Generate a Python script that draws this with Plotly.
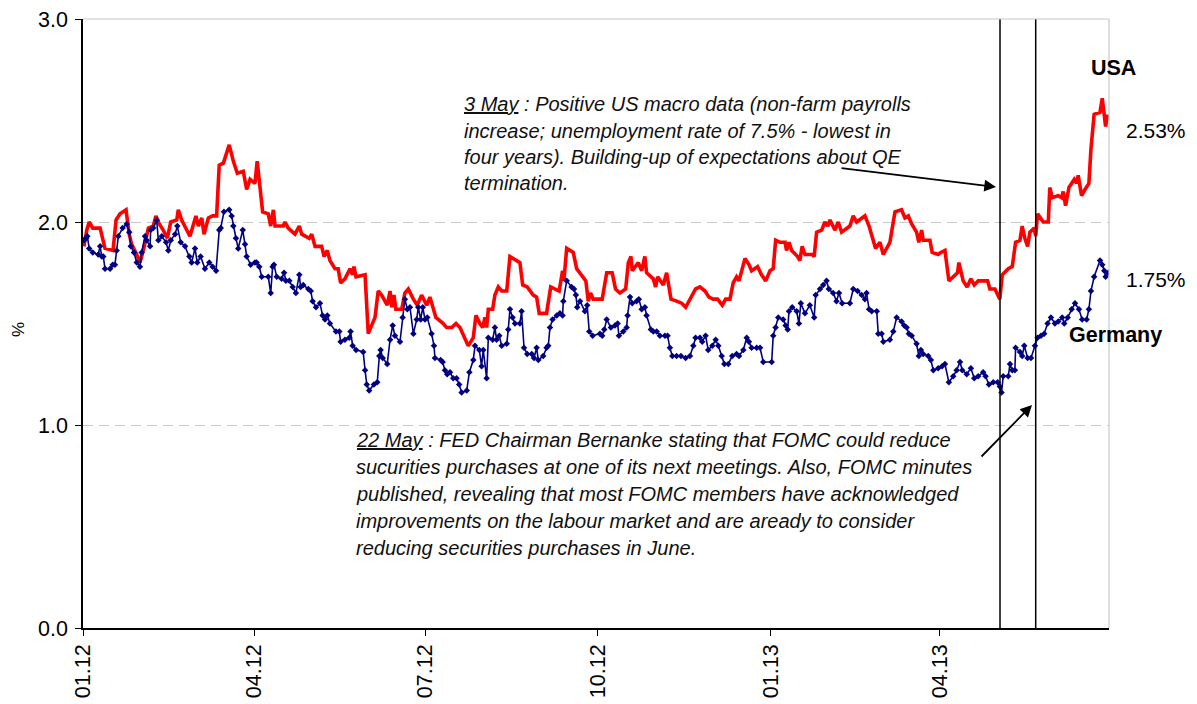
import pandas as pd
import plotly.graph_objects as go

# ---- data (day offsets from 2012-01-01, yields in %) ----
usa_day = [0.5, 2.0, 3.3, 5.2, 9.1, 10.0, 11.7, 16.0, 17.6, 19.7, 22.9, 24.6, 25.9, 28.6, 30.3, 32.1,
           34.8, 37.4, 38.8, 40.6, 42.7, 44.9, 46.7, 49.9, 50.7, 52.5, 56.9, 60.1, 61.4, 63.2, 64.4,
           66.7, 69.0, 71.1, 72.5, 74.7, 77.8, 80.0, 82.1, 85.3, 87.1, 88.9, 91.5, 92.7, 95.6, 98.6,
           99.9, 101.3, 102.2, 106.6, 107.5, 109.2, 112.8, 115.1, 116.4, 120.4, 121.7, 123.5, 127.0,
           128.3, 130.0, 131.4, 134.1, 135.8, 137.1, 139.4, 142.1, 143.5, 144.2, 145.3, 150.1, 151.8,
           155.4, 157.1, 158.9, 161.9, 163.4, 164.3, 165.5, 166.5, 169.6, 171.3, 173.1, 175.8, 177.9,
           180.2, 182.9, 184.6, 187.8, 191.7, 193.5, 196.2, 198.5, 200.6, 202.4, 205.0, 207.7, 209.1,
           211.2, 212.7, 213.9, 214.8, 215.7, 218.0, 219.2, 221.0, 222.8, 225.5, 227.2, 229.0, 232.5,
           234.0, 236.4, 239.6, 241.4, 242.8, 246.7, 248.9, 251.2, 253.4, 255.2, 255.9, 257.4, 260.9,
           262.7, 267.6, 268.9, 270.1, 271.5, 275.1, 276.3, 278.7, 281.6, 283.4, 285.7, 288.8, 290.2,
           291.6, 292.3, 295.5, 297.3, 299.0, 299.9, 303.5, 304.7, 305.8, 308.8, 310.6, 312.9, 315.9,
           318.6, 320.7, 323.9, 326.0, 328.3, 331.0, 333.1, 335.4, 337.7, 340.2, 342.0, 344.3, 346.0,
           347.8, 349.1, 352.3, 354.4, 355.8, 359.0, 361.1, 363.3, 365.6, 367.3, 368.6, 370.9, 373.6,
           374.4, 375.7, 377.1, 380.3, 381.5, 382.7, 384.2, 388.1, 389.1, 390.4, 393.1, 394.8, 396.3,
           397.5, 400.2, 401.9, 403.7, 408.1, 409.9, 411.7, 416.1, 418.3, 421.8, 424.1, 425.9, 429.4,
           432.1, 435.6, 437.4, 439.2, 441.0, 443.6, 444.8, 446.3, 447.1, 450.7, 451.9, 455.1, 456.5,
           458.7, 460.8, 464.0, 465.4, 466.1, 468.4, 470.5, 472.5, 474.3, 476.4, 479.0, 481.4, 482.6,
           485.3, 487.9, 489.2, 492.4, 494.5, 496.3, 498.6, 499.8, 501.2, 502.7, 503.9, 506.2, 507.0,
           508.0, 511.0, 513.7, 514.5, 515.8, 518.9, 520.8, 521.6, 522.9, 524.7, 527.5, 528.8, 529.6,
           531.4, 533.2, 535.3, 536.4, 538.1, 541.2, 542.4, 544.2, 545.2]
usa_val = [1.88, 1.96, 2.00, 1.97, 1.97, 1.93, 1.87, 1.86, 2.01, 2.04, 2.06, 1.94, 1.89, 1.84, 1.80, 1.86,
           1.97, 1.98, 2.03, 1.99, 1.96, 1.92, 2.00, 2.01, 2.06, 2.01, 1.93, 2.03, 1.98, 2.02, 1.94,
           2.02, 2.03, 2.03, 2.28, 2.29, 2.38, 2.30, 2.24, 2.25, 2.16, 2.21, 2.19, 2.30, 2.05, 2.04,
           1.98, 2.06, 1.98, 1.98, 2.00, 1.97, 1.94, 1.98, 1.94, 1.92, 1.94, 1.88, 1.88,
           1.83, 1.86, 1.81, 1.77, 1.77, 1.70, 1.72, 1.77, 1.74, 1.78, 1.73, 1.74, 1.45,
           1.53, 1.66, 1.64, 1.59, 1.66, 1.58, 1.64, 1.57, 1.57, 1.65, 1.67, 1.62, 1.59,
           1.64, 1.59, 1.63, 1.53, 1.50, 1.48, 1.48, 1.50, 1.48, 1.44, 1.39, 1.43, 1.54,
           1.50, 1.48, 1.53, 1.48, 1.57, 1.57, 1.64, 1.68, 1.66, 1.66, 1.83, 1.82, 1.80,
           1.69, 1.68, 1.64, 1.63, 1.55, 1.55, 1.68, 1.67, 1.66, 1.76, 1.71, 1.87, 1.85,
           1.77, 1.71, 1.61, 1.65, 1.62, 1.62, 1.62, 1.75, 1.75, 1.67, 1.65, 1.67, 1.80,
           1.83, 1.76, 1.80, 1.76, 1.83, 1.75, 1.72, 1.68, 1.73, 1.69, 1.75, 1.62, 1.61,
           1.60, 1.58, 1.63, 1.67, 1.68, 1.66, 1.63, 1.62, 1.62, 1.59, 1.62, 1.62, 1.70,
           1.73, 1.71, 1.82, 1.79, 1.76, 1.78, 1.74, 1.71, 1.76, 1.77, 1.91, 1.90, 1.90,
           1.86, 1.90, 1.86, 1.83, 1.81, 1.88, 1.84, 1.84, 1.83, 1.95, 1.96, 2.00, 1.98,
           2.01, 1.96, 2.00, 1.95, 1.98, 2.03, 2.00, 2.03, 1.98, 1.87, 1.90, 1.84, 1.90,
           2.05, 2.06, 2.02, 2.03, 1.99, 1.95, 1.90, 1.96, 1.91, 1.91, 1.85, 1.84, 1.85,
           1.86, 1.71, 1.74, 1.75, 1.80, 1.71, 1.68, 1.72, 1.69, 1.71, 1.71, 1.71, 1.67,
           1.67, 1.62, 1.74, 1.77, 1.78, 1.90, 1.91, 1.98, 1.92, 1.88, 1.95, 1.97, 1.93,
           2.04, 2.00, 2.00, 2.17, 2.12, 2.13, 2.12, 2.15, 2.08, 2.17, 2.21, 2.19, 2.23,
           2.13, 2.16, 2.19, 2.36, 2.53, 2.54, 2.61, 2.47, 2.53]

ger_day = [0.5, 1.6, 2.3, 3.3, 5.2, 8.1, 9.1, 10.0, 10.8, 11.7, 14.4, 15.8, 17.0, 17.9, 18.8, 21.1,
           23.3, 24.6, 25.4, 27.1, 28.6, 30.3, 31.2, 33.0, 33.9, 35.7, 36.0, 37.4, 39.2, 40.1, 41.9,
           44.2, 45.4, 46.7, 49.0, 50.2, 52.0, 54.3, 56.6, 57.8, 59.6, 60.8, 62.6, 64.9, 67.2, 69.0,
           70.8, 72.5, 73.3, 75.0, 77.8, 79.1, 80.0, 81.4, 82.6, 85.0, 86.2, 87.1, 89.2, 91.5, 92.4,
           93.8, 95.1, 98.6, 99.9, 100.9, 101.6, 103.1, 105.7, 107.0, 108.0, 109.8, 111.6, 113.3,
           115.1, 115.8, 117.2, 119.9, 121.2, 122.2, 124.0, 126.1, 127.5, 128.8, 130.0, 131.4, 134.6,
           136.4, 137.1, 139.4, 141.7, 142.4, 143.5, 145.3, 149.1, 150.1, 151.0, 152.3, 154.8, 156.6,
           157.7, 158.4, 159.5, 161.9, 163.4, 164.8, 166.0, 168.7, 170.1, 171.3, 172.6, 174.0, 175.8,
           177.6, 178.4, 179.7, 180.8, 182.0, 183.2, 185.5, 186.8, 187.3, 190.3, 191.4, 192.6, 193.8,
           195.3, 197.0, 198.8, 200.2, 201.5, 204.2, 205.6, 207.7, 208.6, 210.9, 212.1, 213.0, 214.8,
           215.7, 218.0, 219.2, 220.1, 221.5, 222.8, 225.5, 226.3, 227.2, 228.6, 229.9, 232.5, 233.4,
           234.7, 236.4, 238.8, 240.0, 241.4, 242.3, 244.9, 246.7, 247.6, 248.5, 249.9, 252.1, 253.8,
           255.2, 255.6, 257.4, 260.0, 261.3, 262.3, 263.0, 264.5, 267.1, 268.3, 269.4, 271.2, 275.1,
           276.3, 277.4, 278.7, 280.9, 283.1, 284.5, 285.2, 287.5, 289.3, 289.8, 291.1, 292.3, 294.6,
           295.8, 297.3, 299.0, 299.9, 302.2, 303.5, 305.3, 307.0, 309.7, 311.1, 312.3, 313.6, 315.9,
           318.2, 320.7, 323.0, 324.8, 326.0, 328.3, 329.5, 331.3, 332.7, 334.9, 336.7, 338.1, 339.9,
           341.3, 343.4, 345.5, 347.8, 349.1, 351.4, 353.2, 354.4, 355.8, 358.5, 360.3, 362.0, 366.5,
           367.3, 368.6, 370.0, 372.6, 373.9, 375.0, 375.7, 377.4, 379.8, 381.0, 382.0, 384.2, 386.8,
           389.1, 389.9, 392.2, 393.9, 395.7, 396.9, 399.2, 401.0, 402.3, 404.0, 408.1, 409.9, 412.2,
           414.4, 416.1, 417.0, 418.3, 419.7, 422.4, 423.2, 425.0, 425.9, 429.4, 431.2, 433.0, 435.6,
           437.0, 438.3, 439.5, 441.0, 443.6, 444.8, 445.9, 447.1, 449.8, 451.2, 452.5, 455.1, 457.2,
           458.7, 460.8, 463.1, 464.9, 466.7, 467.9, 470.3, 472.5, 474.3, 476.4, 479.0, 480.3, 482.1,
           484.4, 486.7, 487.9, 488.8, 489.7, 492.4, 493.3, 494.5, 495.9, 496.3, 498.6, 499.8, 500.9,
           502.7, 504.5, 506.6, 508.0, 509.8, 511.5, 513.3, 515.1, 517.2, 519.0, 521.1, 522.2, 524.0,
           526.1, 527.9, 530.0, 531.7, 534.1, 535.3, 536.4, 538.1, 541.2, 542.4, 543.5, 544.2, 545.6]
ger_val = [1.91, 1.92, 1.93, 1.87, 1.85, 1.84, 1.88, 1.83, 1.83, 1.77, 1.77, 1.79, 1.79, 1.86, 1.93, 1.97,
           1.99, 1.95, 1.88, 1.85, 1.80, 1.78, 1.85, 1.93, 1.91, 1.88, 1.96, 1.97, 2.01, 1.91, 1.93,
           1.90, 1.86, 1.91, 1.94, 1.98, 1.90, 1.88, 1.83, 1.80, 1.87, 1.80, 1.83, 1.77, 1.80, 1.78,
           1.76, 1.96, 1.97, 2.05, 2.06, 2.03, 1.98, 1.92, 1.87, 1.96, 1.89, 1.83, 1.79, 1.80, 1.80,
           1.78, 1.73, 1.73, 1.65, 1.78, 1.79, 1.73, 1.72, 1.75, 1.71, 1.71, 1.68, 1.65,
           1.74, 1.68, 1.69, 1.67, 1.66, 1.61, 1.58, 1.60, 1.54, 1.52, 1.54, 1.50, 1.46,
           1.46, 1.41, 1.42, 1.43, 1.46, 1.39, 1.37, 1.36, 1.27, 1.20, 1.17, 1.20, 1.21,
           1.34, 1.37, 1.33, 1.30, 1.42, 1.49, 1.44, 1.41, 1.53, 1.62, 1.57, 1.58, 1.45,
           1.52, 1.58, 1.52, 1.58, 1.52, 1.53, 1.45, 1.39, 1.33, 1.32, 1.31, 1.27, 1.25,
           1.26, 1.23, 1.23, 1.20, 1.16, 1.17, 1.26, 1.32, 1.39, 1.37, 1.29, 1.37, 1.23,
           1.43, 1.42, 1.48, 1.42, 1.44, 1.39, 1.40, 1.47, 1.57, 1.53, 1.50, 1.50, 1.56,
           1.38, 1.35, 1.35, 1.33, 1.38, 1.32, 1.34, 1.38, 1.39, 1.48, 1.52, 1.54, 1.55,
           1.54, 1.61, 1.71, 1.68, 1.67, 1.64, 1.58, 1.61, 1.56, 1.59, 1.46, 1.44, 1.45,
           1.44, 1.47, 1.52, 1.48, 1.49, 1.50, 1.44, 1.46, 1.48, 1.54, 1.63, 1.60, 1.61,
           1.62, 1.57, 1.58, 1.54, 1.47, 1.46, 1.46, 1.44, 1.44, 1.44, 1.38, 1.34, 1.34,
           1.34, 1.33, 1.34, 1.39, 1.43, 1.43, 1.41, 1.44, 1.37, 1.39, 1.42, 1.39, 1.34,
           1.30, 1.30, 1.34, 1.35, 1.34, 1.37, 1.43, 1.41, 1.38, 1.38, 1.38, 1.31, 1.31,
           1.44, 1.48, 1.53, 1.52, 1.49, 1.47, 1.56, 1.58, 1.56, 1.50, 1.60, 1.55, 1.59,
           1.53, 1.64, 1.67, 1.69, 1.71, 1.67, 1.65, 1.61, 1.65, 1.60, 1.60, 1.67, 1.66,
           1.64, 1.62, 1.65, 1.57, 1.56, 1.56, 1.45, 1.45, 1.41, 1.42, 1.46, 1.53, 1.51,
           1.49, 1.48, 1.45, 1.44, 1.40, 1.34, 1.37, 1.35, 1.34, 1.32, 1.27, 1.28, 1.29,
           1.30, 1.21, 1.24, 1.27, 1.31, 1.27, 1.25, 1.28, 1.23, 1.24, 1.26, 1.24, 1.20,
           1.21, 1.21, 1.19, 1.16, 1.24, 1.24, 1.30, 1.27, 1.27, 1.38, 1.36, 1.34, 1.39,
           1.33, 1.33, 1.39, 1.43, 1.44, 1.45, 1.50, 1.53, 1.50, 1.51, 1.53, 1.50, 1.53,
           1.57, 1.60, 1.57, 1.52, 1.52, 1.57, 1.66, 1.73, 1.81, 1.79, 1.76, 1.73, 1.75]

tick_dates = ["2012-01-01", "2012-04-01", "2012-07-01", "2012-10-01", "2013-01-01", "2013-04-01"]
tick_text = ["01.12", "04.12", "07.12", "10.12", "01.13", "04.13"]
y_ticks = [0, 1, 2, 3]
y_ticktext = ["0.0", "1.0", "2.0", "3.0"]
event_dates = ["2013-05-03", "2013-05-22"]
last_usa, last_ger = "2.53%", "1.75%"

base = pd.Timestamp("2012-01-01")
usa_x = base + pd.to_timedelta(usa_day, unit="D")
ger_x = base + pd.to_timedelta(ger_day, unit="D")

# page geometry (the page body adds an 8px offset)
OFF = 8
PAGE_W, PAGE_H = 1197, 704
FIG_W, FIG_H = PAGE_W - OFF, PAGE_H - OFF
L, R, T, B = 83, 1109, 19, 628   # plot area in page pixels


def px(x):
    return (x - L) / (R - L)


def py(y):
    return (B - y) / (B - T)


TXT_FONT = "Liberation Sans, Arial, sans-serif"
AX_FONT = dict(family=TXT_FONT, size=21.5, color="#000000")

fig = go.Figure()
fig.add_trace(go.Scatter(x=usa_x, y=usa_val, mode="lines", name="USA",
                         line=dict(color="#FF0000", width=3.6)))
fig.add_trace(go.Scatter(x=ger_x, y=ger_val, mode="lines+markers", name="Germany",
                         line=dict(color="#000080", width=1.6),
                         marker=dict(symbol="diamond", size=5, color="#000080")))

for d in event_dates:
    fig.add_shape(type="line", xref="x", yref="paper", x0=d, x1=d, y0=0, y1=1,
                  line=dict(color="#000000", width=1.5))

# frame top / right in light grey
fig.add_shape(type="line", xref="paper", yref="paper", x0=0, x1=1, y0=1, y1=1,
              line=dict(color="#C8C8C8", width=1.2))
fig.add_shape(type="line", xref="paper", yref="paper", x0=1, x1=1, y0=0, y1=1,
              line=dict(color="#C8C8C8", width=1.2))

ann = []
lines1 = ["<span style='text-decoration:underline'>3 May</span> : Positive US macro data (non-farm payrolls",
          "increase; unemployment rate of 7.5% - lowest in",
          "four years). Building-up of expectations about QE",
          "termination."]
for i, t in enumerate(lines1):
    ann.append(dict(xref="paper", yref="paper", x=px(462), y=py(104 + i * 26.5), text=t,
                    showarrow=False, xanchor="left", yanchor="middle",
                    font=dict(family=TXT_FONT, size=20, color="#111111", style="italic")))
lines2 = ["<span style='text-decoration:underline'>22 May</span> : FED Chairman Bernanke stating that FOMC could reduce",
          "sucurities purchases at one of its next meetings. Also, FOMC minutes",
          "published, revealing that most FOMC members have acknowledged",
          "improvements on the labour market and are aready to consider",
          "reducing securities purchases in June."]
for i, t in enumerate(lines2):
    ann.append(dict(xref="paper", yref="paper", x=px(354), y=py(440 + i * 27.0), text=t,
                    showarrow=False, xanchor="left", yanchor="middle",
                    font=dict(family=TXT_FONT, size=20, color="#111111", style="italic")))

# arrows
ann.append(dict(xref="paper", yref="paper", axref="pixel", ayref="pixel",
                x=px(996), y=py(187), ax=-156, ay=-19, text="", showarrow=True,
                arrowhead=2, arrowsize=1.3, arrowwidth=1.8, arrowcolor="#000000"))
ann.append(dict(xref="paper", yref="paper", axref="pixel", ayref="pixel",
                x=px(1032), y=py(405), ax=-52, ay=53, text="", showarrow=True,
                arrowhead=2, arrowsize=1.3, arrowwidth=1.8, arrowcolor="#000000"))

LBL = dict(showarrow=False, xanchor="center", yanchor="middle", xref="paper", yref="paper")
ann.append(dict(LBL, x=px(1113), y=py(68), text="<b>USA</b>",
                font=dict(family=TXT_FONT, size=21.5, color="#000")))
ann.append(dict(LBL, x=px(1115), y=py(335), text="<b>Germany</b>",
                font=dict(family=TXT_FONT, size=21.5, color="#000")))
ann.append(dict(LBL, x=px(1156), y=py(130), text=last_usa,
                font=dict(family=TXT_FONT, size=21, color="#000")))
ann.append(dict(LBL, x=px(1156), y=py(279), text=last_ger,
                font=dict(family=TXT_FONT, size=21, color="#000")))
ann.append(dict(LBL, x=px(19), y=py(330), text="%", textangle=-90,
                font=dict(family=TXT_FONT, size=17, color="#000")))

fig.update_layout(
    width=FIG_W, height=FIG_H,
    margin=dict(l=L - OFF, r=PAGE_W - R, t=T - OFF, b=PAGE_H - B, pad=0, autoexpand=False),
    paper_bgcolor="#FFFFFF", plot_bgcolor="#FFFFFF",
    showlegend=False,
    annotations=ann,
    xaxis=dict(type="date", range=["2012-01-01", "2013-06-30"],
               tickvals=tick_dates, ticktext=tick_text, tickangle=-90,
               ticks="outside", ticklen=6, tickcolor="#000", tickwidth=1.2,
               ticklabeloverflow="allow", automargin=False,
               showline=True, linecolor="#000", linewidth=1.5, showgrid=False,
               zeroline=False, tickfont=AX_FONT),
    yaxis=dict(range=[0, 3], tickvals=y_ticks, ticktext=y_ticktext,
               ticks="outside", ticklen=6, tickcolor="#000", tickwidth=1.2,
               ticklabelstandoff=3, ticklabeloverflow="allow", automargin=False,
               showline=True, linecolor="#000", linewidth=1.5,
               showgrid=True, gridcolor="#C8C8C8", griddash="10px,6px", gridwidth=1,
               zeroline=False, tickfont=AX_FONT),
)

fig.write_html("out.html")
